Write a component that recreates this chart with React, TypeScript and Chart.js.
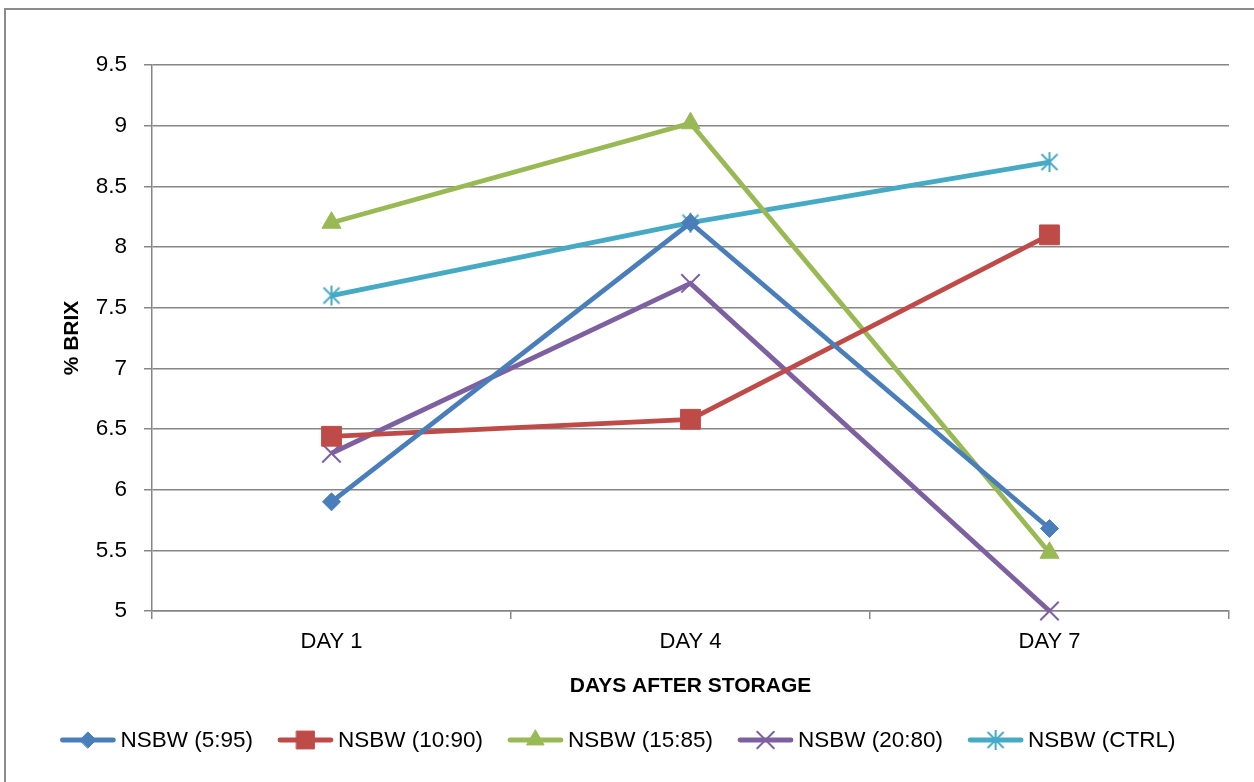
import React, { useEffect, useRef } from "react";
import { Chart, registerables } from "chart.js";
import { drawPoint } from "chart.js/helpers";

Chart.register(...registerables);

const days = ["DAY 1", "DAY 4", "DAY 7"];
const seriesNames = ["NSBW (5:95)", "NSBW (10:90)", "NSBW (15:85)", "NSBW (20:80)", "NSBW (CTRL)"];
const s595 = [5.9, 8.2, 5.68];
const s1090 = [6.44, 6.58, 8.1];
const s1585 = [8.2, 9.02, 5.48];
const s2080 = [6.3, 7.7, 5.0];
const sCtrl = [7.6, 8.2, 8.7];
const yMin = 5;
const yMax = 9.5;
const yStep = 0.5;

const colors = ["#4A7EBB", "#BE4B48", "#98B954", "#7D60A0", "#46AAC5"];
const FONT = "'Liberation Sans', Arial, sans-serif";

function makeStar(color: string): HTMLCanvasElement {
  const c = document.createElement("canvas");
  c.width = 22;
  c.height = 22;
  const ctx = c.getContext("2d")!;
  ctx.strokeStyle = color;
  ctx.lineWidth = 2;
  ctx.beginPath();
  ctx.moveTo(11, 1);
  ctx.lineTo(11, 21);
  ctx.moveTo(3, 3);
  ctx.lineTo(19, 19);
  ctx.moveTo(19, 3);
  ctx.lineTo(3, 19);
  ctx.stroke();
  return c;
}

export default function App() {
  const ref = useRef<HTMLCanvasElement>(null);

  useEffect(() => {
    const star = makeStar(colors[4]);
    const styles: any[] = ["rectRot", "rect", "triangle", "crossRot", star];
    const radii = [9, 14, 11, 13, 11];
    const borderW = [1, 1, 1, 2, 1];
    const allData = [s595, s1090, s1585, s2080, sCtrl];

    const datasets = allData.map((d, i) => ({
      label: seriesNames[i],
      data: d,
      borderColor: colors[i],
      backgroundColor: colors[i],
      borderWidth: 4.8,
      pointStyle: styles[i],
      pointRadius: radii[i],
      pointHoverRadius: radii[i],
      pointBorderWidth: borderW[i],
      pointBackgroundColor: colors[i],
      pointBorderColor: colors[i],
      tension: 0,
      clip: false as any,
    }));

    const legendPlugin = {
      id: "customLegend",
      afterDraw(chart: any) {
        const ctx = chart.ctx;
        ctx.save();
        ctx.font = `22.5px ${FONT}`;
        const lineW = 55;
        const gap = 5;
        const spacing = 25;
        const widths = seriesNames.map((n) => lineW + gap + ctx.measureText(n).width);
        const total = widths.reduce((a, b) => a + b, 0) + spacing * (seriesNames.length - 1);
        let x = 618 - total / 2;
        const y = 740;
        seriesNames.forEach((n, i) => {
          ctx.strokeStyle = colors[i];
          ctx.lineWidth = 4.8;
          ctx.lineCap = "round";
          ctx.beginPath();
          ctx.moveTo(x + 2, y);
          ctx.lineTo(x + lineW - 2, y);
          ctx.stroke();
          ctx.fillStyle = colors[i];
          ctx.strokeStyle = colors[i];
          ctx.lineWidth = borderW[i];
          drawPoint(
            ctx,
            { pointStyle: styles[i], radius: radii[i] * 0.9, borderWidth: borderW[i], rotation: 0 } as any,
            x + lineW / 2,
            y
          );
          ctx.fillStyle = "#000";
          ctx.textBaseline = "middle";
          ctx.textAlign = "left";
          ctx.fillText(n, x + lineW + gap, y + 1);
          x += widths[i] + spacing;
        });
        ctx.restore();
      },
    };

    const whiteBg = {
      id: "whiteBg",
      beforeDraw(chart: any) {
        const ctx = chart.ctx;
        ctx.save();
        ctx.fillStyle = "#fff";
        ctx.fillRect(0, 0, chart.width, chart.height);
        ctx.restore();
      },
    };

    const chart = new Chart(ref.current!, {
      type: "line",
      data: { labels: days, datasets },
      options: {
        animation: false,
        responsive: false,
        maintainAspectRatio: false,
        layout: { padding: { left: 50, top: 65, right: 25, bottom: 71 } },
        plugins: {
          legend: { display: false },
          tooltip: { enabled: false },
        },
        scales: {
          x: {
            offset: true,
            grid: {
              offset: true,
              drawOnChartArea: false,
              drawTicks: true,
              tickLength: 8,
              color: "#868686",
              lineWidth: 1.5,
            },
            border: { display: true, color: "#868686", width: 1.5 },
            ticks: { color: "#000", font: { family: FONT, size: 22 }, padding: 10 },
            title: {
              display: true,
              text: "DAYS AFTER STORAGE",
              color: "#000",
              font: { family: FONT, size: 21, weight: "bold" },
              padding: { top: 0, bottom: 12 },
            },
            afterFit(scale: any) {
              scale.height = 100;
            },
          },
          y: {
            min: yMin,
            max: yMax,
            ticks: {
              stepSize: yStep,
              color: "#000",
              font: { family: FONT, size: 22.5 },
              padding: 17,
              callback: (v: any) => String(Number(v)),
            },
            grid: { color: "#868686", lineWidth: 1.5, tickLength: 8 },
            border: { display: true, color: "#868686", width: 1.5 },
            title: {
              display: true,
              text: "% BRIX",
              color: "#000",
              font: { family: FONT, size: 21, weight: "bold" },
              padding: { top: 10, bottom: 0 },
            },
            afterFit(scale: any) {
              scale.width = 102;
            },
          },
        },
      },
      plugins: [whiteBg, legendPlugin],
    });
    return () => chart.destroy();
  }, []);

  return (
    <div style={{ position: "fixed", left: 0, top: 0, width: 1254, height: 782, background: "#fff" }}>
      <canvas ref={ref} width={1254} height={782} style={{ position: "absolute", left: 0, top: 0 }} />
      <div
        style={{
          position: "absolute",
          left: 4,
          top: 8,
          width: 1400,
          height: 1000,
          border: "2px solid #8c8c8c",
          pointerEvents: "none",
        }}
      />
    </div>
  );
}
